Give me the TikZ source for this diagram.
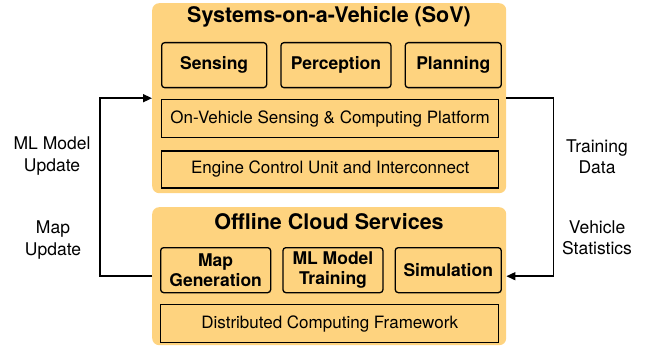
\documentclass[tikz,border=0pt]{standalone}
\usepackage{fontspec}
\setmainfont{TeX Gyre Heros}
\setsansfont{TeX Gyre Heros}
\usetikzlibrary{arrows.meta,positioning}
\definecolor{layer}{RGB}{254,211,127}

\begin{document}
\begin{tikzpicture}[x=1pt,y=-1pt,font=\sffamily,node distance=13pt,
	group/.style={fill=layer,rounded corners=7pt,anchor=north west},
	title/.style={font=\sffamily\bfseries\fontsize{21.5}{24}\selectfont},
	module/.style={draw,line width=1.3pt,rounded corners=3pt,minimum height=45pt,
		inner sep=0pt,align=center,font=\sffamily\bfseries\fontsize{17.5}{20}\selectfont},
	layerbox/.style={draw,line width=1.3pt,minimum height=38pt,minimum width=337pt,
		inner sep=0pt,font=\sffamily\fontsize{17}{20}\selectfont},
	flow/.style={line width=1.5pt,-{Triangle[length=9pt,width=8pt]}},
	lbl/.style={align=center,font=\sffamily\fontsize{17.5}{21.5}\selectfont}]
\useasboundingbox (0,0) rectangle (647,347);

% Systems-on-a-Vehicle
\node[group,minimum width=354pt,minimum height=190pt] (sov) at (152,3) {};
\node[title] at (329,17) {Systems-on-a-Vehicle (SoV)};
\node[module,minimum width=105pt,anchor=north west] (sense) at (161,42) {Sensing};
\node[module,minimum width=110pt,right=of sense] (percep) {Perception};
\node[module,minimum width=96pt,right=of percep] (plan) {Planning};
\node[layerbox,anchor=north west] (platform) at (161,99) {On-Vehicle Sensing \& Computing Platform};
\node[layerbox,minimum height=37pt,below=12pt of platform] (ecu) {Engine Control Unit and Interconnect};

% Offline Cloud Services
\node[group,minimum width=354pt,minimum height=138pt] (cloud) at (152,207) {};
\node[title] at (329,222) {Offline Cloud Services};
\node[module,minimum width=110pt,anchor=north west] (mapgen) at (160,247) {Map\\Generation};
\node[module,minimum width=100pt,right=11pt of mapgen] (train) {ML Model\\Training};
\node[module,minimum width=106pt,right=11pt of train] (sim) {Simulation};
\node[layerbox,minimum width=338pt,anchor=north west] (dist) at (160,304) {Distributed Computing Framework};

% feedback loops
\draw[flow] (cloud.west) -- ++(-52,0) |- (sov.west);
\draw[flow] (sov.east) -- ++(47,0) |- (cloud.east);

\node[lbl] at (52,156) {ML Model\\Update};
\node[lbl] at (53,240) {Map\\Update};
\node[lbl] at (597,157) {Training\\Data};
\node[lbl] at (597,238) {Vehicle\\Statistics};
\end{tikzpicture}
\end{document}
